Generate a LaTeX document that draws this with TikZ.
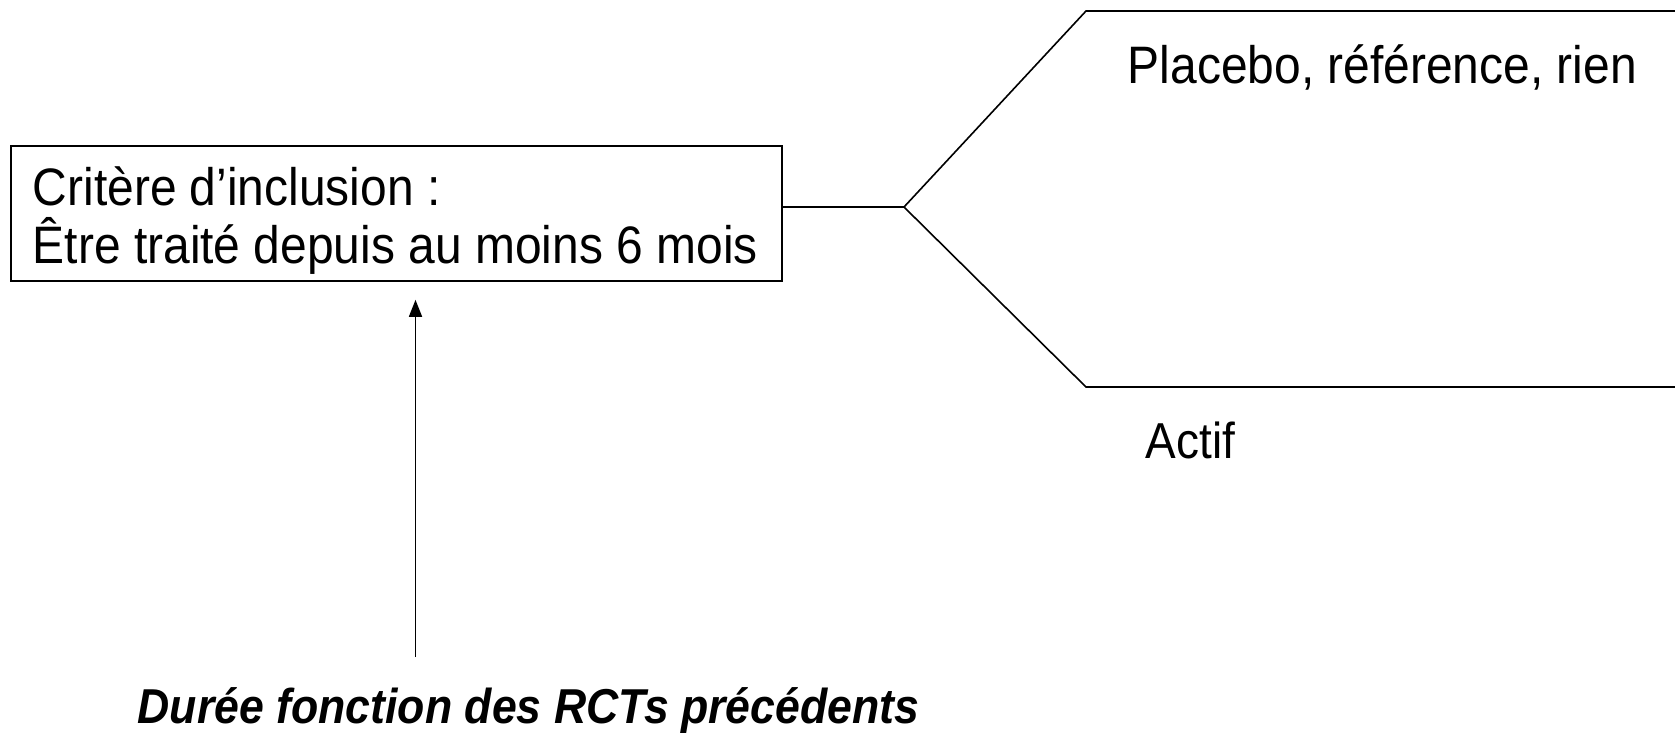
\documentclass[tikz,border=0pt]{standalone}
\usepackage{fontspec}
\setmainfont{Liberation Sans}[FakeStretch=0.91]
\usetikzlibrary{arrows.meta}
\begin{document}
\begin{tikzpicture}[x=1pt,y=-1pt,
  line width=1.6pt,
  lbl/.style={anchor=base west,inner sep=0pt,font=\fontsize{52.7}{62}\selectfont},
  critbox/.style={draw,minimum width=771pt,minimum height=135pt,inner sep=0pt},
  arm/.style={line join=miter},
  uparrow/.style={-{Triangle[length=17pt,width=13pt]}}]
  \useasboundingbox (0,0) rectangle (1675,732);
  % inclusion criterion box
  \node[critbox] (crit) at (396.4,213.5) {};
  \node[lbl] (critA) at (32,205) {Critère d’inclusion :};
  \node[lbl] (critB) at (32,263) {Être traité depuis au moins 6 mois};
  % fork into the two arms
  \coordinate (fork) at (904,207);
  \coordinate (upK) at (1086,11);
  \coordinate (upE) at (1675,11);
  \coordinate (loK) at (1086,387);
  \coordinate (loE) at (1675,387);
  \draw (crit.east |- fork) -- (fork);
  \draw[arm] (fork) -- (upK) -- (upE);
  \draw[arm] (fork) -- (loK) -- (loE);
  \node[lbl] (plac) at (1127,83) {Placebo, référence, rien};
  \node[lbl,font=\fontsize{50.5}{60}\selectfont] (actif) at (1145,458) {Actif};
  % duration note and its arrow towards the box
  \node[lbl,font=\fontsize{49}{58}\selectfont\bfseries\itshape] (duree) at (137,723) {Durée fonction des RCTs précédents};
  \coordinate (arrS) at (415.5,657);
  \draw[uparrow] (arrS) -- ([yshift=-18pt]arrS |- crit.south);
\end{tikzpicture}
\end{document}
